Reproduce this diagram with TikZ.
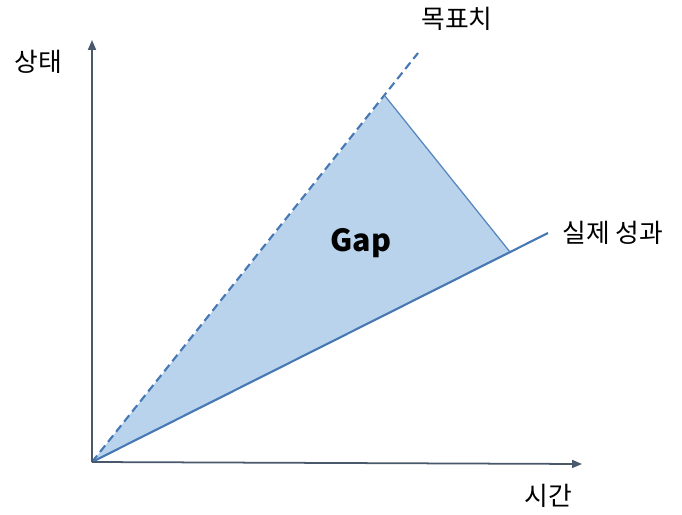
\documentclass[tikz,border=0pt]{standalone}
\usepackage{fontspec}
\setmainfont{Noto Sans CJK KR}
\usepackage{tikz}
\usetikzlibrary{arrows.meta, positioning}
\definecolor{axisgray}{RGB}{74,88,108}
\definecolor{lineblue}{RGB}{70,120,180}
\definecolor{gapfill}{RGB}{185,211,236}
\definecolor{edgeblue}{RGB}{90,135,190}

\begin{document}
\begin{tikzpicture}[x=0.03cm, y=-0.03cm,
    axis/.style={-{Triangle[length=3mm, width=2.4mm]}, line width=1.5pt, axisgray},
    trend/.style={line width=1.8pt, lineblue},
    lbl/.style={font=\fontsize{22}{26}\selectfont, text=black, inner sep=1pt}]
    \useasboundingbox (0,0) rectangle (682,515);
    \coordinate (o) at (92,462);
    \coordinate (ytop) at (92,40);
    \coordinate (xend) at (582,464);
    \coordinate (goal) at (418,53);
    \coordinate (peak) at (385,96);
    \coordinate (meet) at (510,252);
    \coordinate (actual) at (548,233);
    % gap region
    \fill[gapfill] (o) -- (peak) -- (meet) -- cycle;
    \draw[edgeblue, line width=1.1pt] (peak) -- (meet);
    % target and actual lines
    \draw[trend, dashed, dash pattern=on 7pt off 4pt] (o) -- (goal);
    \draw[trend] (o) -- (actual);
    % axes
    \draw[axis] (o) -- (ytop);
    \draw[axis] (o) -- (xend);
    \node[lbl] (state) at (38,62) {상태};
    \node[lbl] (target) at (457,19) {목표치};
    \node[lbl] (perf) at (613,233) {실제 성과};
    \node[lbl] (time) at (548,496) {시간};
    \node[font=\fontsize{26}{30}\selectfont\bfseries] (gap) at (361,243) {Gap};
  \end{tikzpicture}
\end{document}
